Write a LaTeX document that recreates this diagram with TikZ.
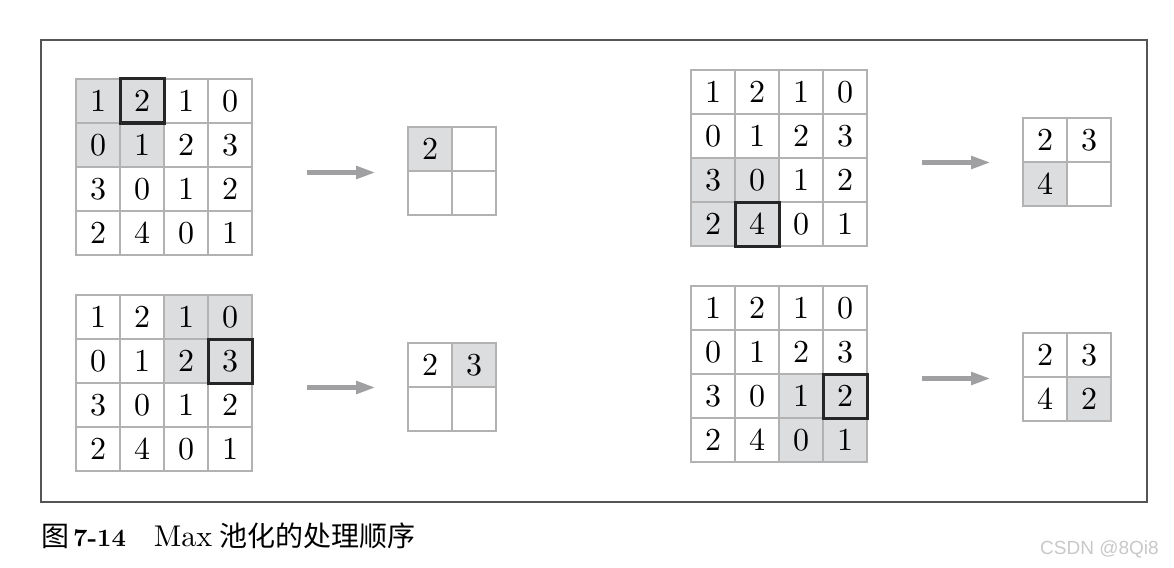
\documentclass[tikz,border=0pt]{standalone}
\usepackage{fontspec}
\setmainfont{lmroman10-regular.otf}[BoldFont=lmroman10-bold.otf]
\newfontfamily\cjk{Noto Sans CJK SC}
\newfontfamily\wmfont{Liberation Sans}
\usetikzlibrary{arrows.meta}
\definecolor{gridc}{RGB}{178,178,178}
\definecolor{shadec}{RGB}{220,221,223}
\definecolor{arrc}{RGB}{160,160,162}
\definecolor{framec}{RGB}{85,85,85}
\definecolor{wmc}{RGB}{200,200,200}
\tikzset{
  cell/.style={draw=gridc, line width=1.5pt, minimum size=44pt, inner sep=0pt, outer sep=0pt,
    font=\fontsize{32}{34}\selectfont},
  hicell/.style={cell, fill=shadec},
  maxbox/.style={draw=black!85, line width=3pt},
  flow/.style={draw=arrc, line width=5pt, -{Triangle[length=20pt,width=12pt]}},
  frame/.style={draw=framec, line width=1.4pt},
}
% big 4x4 grid: #1 name, #2 x0, #3 y0
\newcommand{\bigfour}[3]{%
  \foreach \a/\b/\c/\d [count=\r] in {1/2/1/0,0/1/2/3,3/0/1/2,2/4/0/1}{
    \node[cell] (#1-\r-1) at (#2+22,#3+44*\r-22) {\a};
    \node[cell] (#1-\r-2) at (#2+66,#3+44*\r-22) {\b};
    \node[cell] (#1-\r-3) at (#2+110,#3+44*\r-22) {\c};
    \node[cell] (#1-\r-4) at (#2+154,#3+44*\r-22) {\d};
  }%
}
\begin{document}
\begin{tikzpicture}[x=1pt,y=-1pt]
\useasboundingbox (0,0) rectangle (1174,567);
\draw[frame] (41,40) rectangle (1147,502);

% ---------- panel 1 (top left)
\fill[shadec] (76,79) rectangle ++(88,88);
\bigfour{A}{76}{79}
\draw[maxbox] (A-1-2.north west) rectangle (A-1-2.south east);
\node[hicell] (oA-1-1) at (430,149) {2};
\node[cell] (oA-1-2) at (474,149) {};
\node[cell] (oA-2-1) at (430,193) {};
\node[cell] (oA-2-2) at (474,193) {};
\coordinate (sA) at (307,172.5);
\coordinate (eA) at (376,172.5);
\draw[flow] (sA) -- (eA);

% ---------- panel 2 (bottom left)
\fill[shadec] (164,295) rectangle ++(88,88);
\bigfour{B}{76}{295}
\draw[maxbox] (B-2-4.north west) rectangle (B-2-4.south east);
\node[cell] (oB-1-1) at (430,365) {2};
\node[hicell] (oB-1-2) at (474,365) {3};
\node[cell] (oB-2-1) at (430,409) {};
\node[cell] (oB-2-2) at (474,409) {};
\coordinate (sB) at (307,387.5);
\coordinate (eB) at (376,387.5);
\draw[flow] (sB) -- (eB);

% ---------- panel 3 (top right)
\fill[shadec] (691,158) rectangle ++(88,88);
\bigfour{C}{691}{70}
\draw[maxbox] (C-4-2.north west) rectangle (C-4-2.south east);
\node[cell] (oC-1-1) at (1045,140) {2};
\node[cell] (oC-1-2) at (1089,140) {3};
\node[hicell] (oC-2-1) at (1045,184) {4};
\node[cell] (oC-2-2) at (1089,184) {};
\coordinate (sC) at (922,162.5);
\coordinate (eC) at (991,162.5);
\draw[flow] (sC) -- (eC);

% ---------- panel 4 (bottom right)
\fill[shadec] (779,374) rectangle ++(88,88);
\bigfour{D}{691}{286}
\draw[maxbox] (D-3-4.north west) rectangle (D-3-4.south east);
\node[cell] (oD-1-1) at (1045,355) {2};
\node[cell] (oD-1-2) at (1089,355) {3};
\node[cell] (oD-2-1) at (1045,399) {4};
\node[hicell] (oD-2-2) at (1089,399) {2};
\coordinate (sD) at (922,378.5);
\coordinate (eD) at (991,378.5);
\draw[flow] (sD) -- (eD);

% ---------- caption and watermark
\node[anchor=base west, inner sep=0pt, font=\fontsize{30}{34}\selectfont] (cap) at (41,546)
  {{\cjk\fontsize{28}{34}\selectfont 图}\hspace{4pt}{\fontsize{25}{30}\selectfont\bfseries 7-14}\hspace{28pt}Max\hspace{7pt}{\cjk\fontsize{28}{34}\selectfont 池化的处理顺序}};
\node[anchor=base west, inner sep=0pt, text=wmc, font=\wmfont\fontsize{19}{22}\selectfont] (wm) at (1040,554) {CSDN @8Qi8};
\end{tikzpicture}
\end{document}
